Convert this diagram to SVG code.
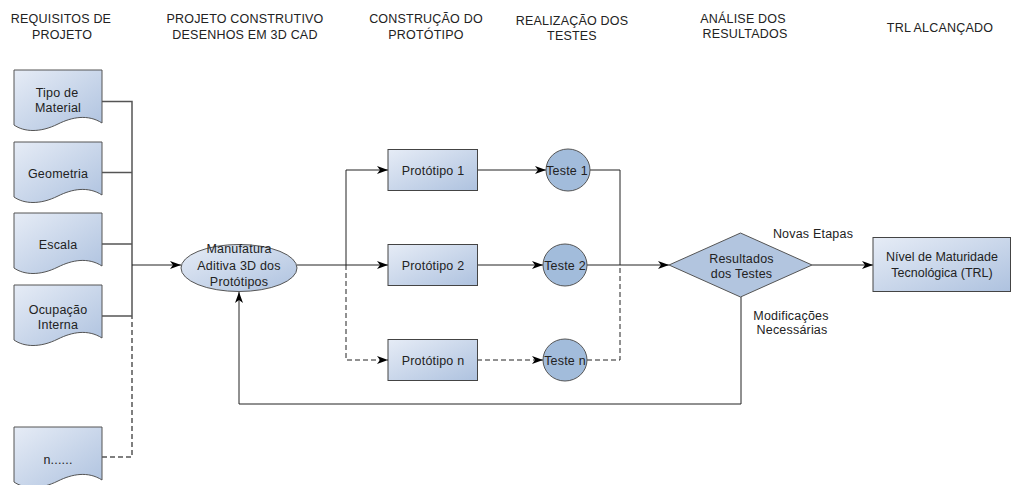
<svg xmlns="http://www.w3.org/2000/svg" width="1013" height="485" viewBox="0 0 1013 485">
<defs>
<linearGradient id="gb" x1="0" y1="0" x2="1" y2="1">
<stop offset="0" stop-color="#e6ecf6"/>
<stop offset="1" stop-color="#aec2df"/>
</linearGradient>
<marker id="ah" markerUnits="userSpaceOnUse" markerWidth="11" markerHeight="8" refX="11" refY="4" orient="auto">
<path d="M0,0 L11,4 L0,8 L3,4 Z" fill="#000"/>
</marker>
<style>
.hd{font-family:"Liberation Sans",Arial,sans-serif;font-size:12.5px;letter-spacing:0.2px;fill:#222;text-anchor:middle}
.tx{font-family:"Liberation Sans",Arial,sans-serif;font-size:12.5px;letter-spacing:0.2px;fill:#222;text-anchor:middle}
.doc{fill:url(#gb);stroke:#555;stroke-width:1}
.box{fill:url(#gb);stroke:#444;stroke-width:1}
.tst{fill:#a2bcdb;stroke:#555;stroke-width:1}
.ln{fill:none;stroke:#222;stroke-width:1}
.gl{fill:none;stroke:#555;stroke-width:1.5}
.ds{stroke-dasharray:5,3}
</style>
</defs>
<rect width="1013" height="485" fill="#fff"/>
<g id="headers">
<text class="hd" x="61" y="23">REQUISITOS DE</text>
<text class="hd" x="62" y="38.5">PROJETO</text>
<text class="hd" x="245" y="23">PROJETO CONSTRUTIVO</text>
<text class="hd" x="245" y="38.5">DESENHOS EM 3D CAD</text>
<text class="hd" x="426" y="23">CONSTRUÇÃO DO</text>
<text class="hd" x="426" y="38.5">PROTÓTIPO</text>
<text class="hd" x="572" y="25">REALIZAÇÃO DOS</text>
<text class="hd" x="572" y="40">TESTES</text>
<text class="hd" x="743" y="22.5">ANÁLISE DOS</text>
<text class="hd" x="745" y="38">RESULTADOS</text>
<text class="hd" x="940" y="31.5">TRL ALCANÇADO</text>
</g>
<g id="connectors">
<path class="gl" d="M102,101.5 H132 V316"/>
<path class="gl" d="M102,172.5 H132"/>
<path class="gl" d="M102,244 H132"/>
<path class="gl" d="M102,316 H132"/>
<path class="gl ds" d="M102,457 H132 V316"/>
<path class="ln" d="M132,265 H181" marker-end="url(#ah)"/>
<path class="ln" d="M297,265 H388" marker-end="url(#ah)"/>
<path class="ln" d="M346,265 V170 H388" marker-end="url(#ah)"/>
<path class="ln ds" d="M346,265 V360 H388" marker-end="url(#ah)"/>
<path class="ln" d="M477,170 H546" marker-end="url(#ah)"/>
<path class="ln" d="M477,265 H543" marker-end="url(#ah)"/>
<path class="ln ds" d="M477,360 H543" marker-end="url(#ah)"/>
<path class="ln" d="M590,170 H620 V265"/>
<path class="ln" d="M587,265 H669" marker-end="url(#ah)"/>
<path class="ln ds" d="M587,360 H620 V265"/>
<path class="ln" d="M812,265 H873" marker-end="url(#ah)"/>
<path class="ln" d="M741,297 V404 H239 V292" marker-end="url(#ah)"/>
<text class="tx" x="813" y="238">Novas Etapas</text>
<text class="tx" x="791" y="319.5">Modificações</text>
<text class="tx" x="792" y="334">Necessárias</text>
</g>
<g id="doc-tipo">
<path class="doc" d="M14,70 H102 V123 C88,114 72,117 58,124 C40,133 24,132 14,125 Z"/>
<text class="tx" x="57" y="97">Tipo de</text>
<text class="tx" x="58" y="112">Material</text>
</g>
<g id="doc-geometria">
<path class="doc" d="M14,142 H102 V195 C88,186 72,189 58,196 C40,205 24,204 14,197 Z"/>
<text class="tx" x="58" y="177.5">Geometria</text>
</g>
<g id="doc-escala">
<path class="doc" d="M14,213 H102 V266 C88,257 72,260 58,267 C40,276 24,275 14,268 Z"/>
<text class="tx" x="58" y="248.5">Escala</text>
</g>
<g id="doc-ocupacao">
<path class="doc" d="M14,285 H102 V338 C88,329 72,332 58,339 C40,348 24,347 14,340 Z"/>
<text class="tx" x="58" y="313.5">Ocupação</text>
<text class="tx" x="58" y="328.5">Interna</text>
</g>
<g id="doc-n">
<path class="doc" d="M14,427 H102 V480 C88,471 72,474 58,481 C40,490 24,489 14,482 Z"/>
<text class="tx" x="58" y="464">n......</text>
</g>
<g id="manufatura">
<ellipse class="doc" cx="239" cy="268" rx="58" ry="23.5"/>
<text class="tx" x="239" y="253">Manufatura</text>
<text class="tx" x="239" y="269.5">Aditiva 3D dos</text>
<text class="tx" x="239" y="285.5">Protótipos</text>
</g>
<g id="prototipo-1">
<rect class="box" x="388" y="149.5" width="89.5" height="41"/>
<text class="tx" x="433" y="175">Protótipo 1</text>
</g>
<g id="prototipo-2">
<rect class="box" x="388" y="244.5" width="89.5" height="41"/>
<text class="tx" x="433" y="270">Protótipo 2</text>
</g>
<g id="prototipo-n">
<rect class="box" x="388" y="339.5" width="89.5" height="41"/>
<text class="tx" x="433" y="365">Protótipo n</text>
</g>
<g id="teste-1">
<ellipse class="tst" cx="568" cy="170" rx="22" ry="21"/>
<text class="tx" x="567" y="174.5">Teste 1</text>
</g>
<g id="teste-2">
<ellipse class="tst" cx="565" cy="265" rx="22" ry="21"/>
<text class="tx" x="565" y="270">Teste 2</text>
</g>
<g id="teste-n">
<ellipse class="tst" cx="565" cy="360" rx="22" ry="21"/>
<text class="tx" x="565" y="364.5">Teste n</text>
</g>
<g id="resultados">
<polygon class="tst" points="669,265 740.5,233 812,265 740.5,297" style="fill:#b2c5df"/>
<text class="tx" x="741.5" y="262.5">Resultados</text>
<text class="tx" x="741.5" y="277.5">dos Testes</text>
</g>
<g id="trl">
<rect class="box" x="873" y="237.5" width="137.5" height="54"/>
<text class="tx" x="942" y="261" style="letter-spacing:0">Nível de Maturidade</text>
<text class="tx" x="942" y="276.5" style="letter-spacing:0">Tecnológica (TRL)</text>
</g>
</svg>
